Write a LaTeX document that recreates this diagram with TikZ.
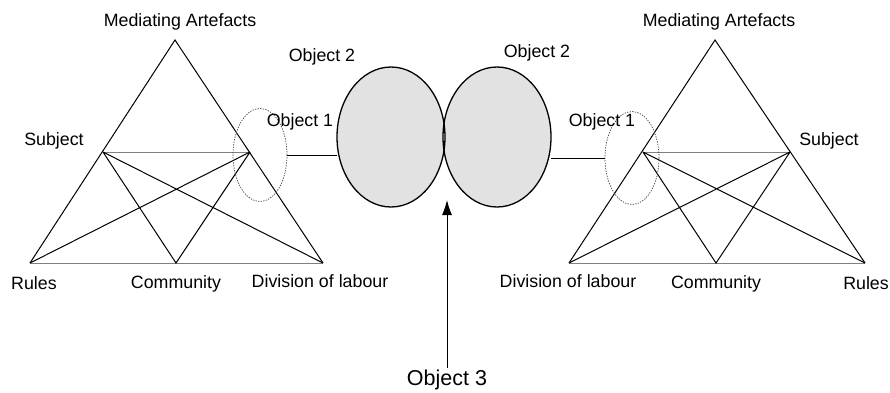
\documentclass[tikz,border=0pt]{standalone}
\usepackage{fontspec}
\setmainfont{Liberation Sans}
\usetikzlibrary{arrows.meta,shapes.geometric}
\definecolor{blobgrey}{RGB}{226,226,226}
\newcommand{\activitylines}[1]{%
  \draw[flatline] (#1rul) -- (#1div) (#1sub) -- (#1obj);
  \draw[triline] (#1rul) -- (#1apex) -- (#1div);
  \draw[triline] (#1sub) -- (#1com) -- (#1obj)
    (#1sub) -- (#1div) (#1obj) -- (#1rul);
}

\begin{document}
\begin{tikzpicture}[x=1pt,y=-1pt,font=\fontsize{17.8}{20}\selectfont,
    triline/.style={line width=1pt},
    flatline/.style={line width=1pt,draw=black!50},
    ring/.style={ellipse,draw=black!75,line width=.7pt,
      dash pattern=on 1.3pt off 1.3pt,minimum width=54pt,minimum height=93pt,inner sep=0pt},
    blob/.style={ellipse,fill=blobgrey,minimum width=108pt,minimum height=140pt,inner sep=0pt},
    rim/.style={line width=1.3pt},
    lbl/.style={inner sep=1pt}]
  \useasboundingbox (0,0) rectangle (890,392);

  % left activity system
  \coordinate (Lapex) at (175,40);
  \coordinate (Lsub) at (103,152);
  \coordinate (Lobj) at (250,152);
  \coordinate (Lrul) at (30,263);
  \coordinate (Lcom) at (176,263);
  \coordinate (Ldiv) at (323,263);
  \activitylines{L}
  \node[ring] (Lring) at (260,155) {};

  % right activity system
  \coordinate (Rapex) at (715,40);
  \coordinate (Robj) at (643,152);
  \coordinate (Rsub) at (790,152);
  \coordinate (Rdiv) at (569,263);
  \coordinate (Rcom) at (716,263);
  \coordinate (Rrul) at (865,263);
  \activitylines{R}
  \node[ring] (Rring) at (632,158) {};

  % shared objects
  \node[blob] (Lobj2) at (391,137) {};
  \node[blob] (Robj2) at (497,137) {};
  \foreach \b in {Lobj2,Robj2}
    \draw[rim] (\b.center) ellipse (54 and 70);
  \draw[triline] (Lring.east) -- (Lring.east -| Lobj2.west);
  \draw[triline] (Robj2.east |- Rring.west) -- (Rring.west);

  \coordinate (o3tip) at (447,200);
  \node[lbl,inner sep=2pt,font=\fontsize{21.5}{24}\selectfont] (o3) at (447,380) {Object 3};
  \draw[line width=1pt,-{Latex[length=15pt,width=10pt]}] (o3.north) -- (o3tip);

  % labels
  \node[lbl] (Lmedt) at (180,22) {Mediating Artefacts};
  \node[lbl] (Lsubt) at (54,141) {Subject};
  \node[lbl] (Lrult) at (34,283) {Rules};
  \node[lbl] (Lcomt) at (176,284) {Community};
  \node[lbl] (Ldivt) at (320,281) {Division of labour};
  \node[lbl] (Lo1t) at (300,122) {Object 1};
  \node[lbl] (Lo2t) at (322,57) {Object 2};
  \node[lbl] (Rmedt) at (719,22) {Mediating Artefacts};
  \node[lbl] (Rsubt) at (829,141) {Subject};
  \node[lbl] (Rrult) at (866,283) {Rules};
  \node[lbl] (Rcomt) at (716,284) {Community};
  \node[lbl] (Rdivt) at (568,281) {Division of labour};
  \node[lbl] (Ro1t) at (602,122) {Object 1};
  \node[lbl] (Ro2t) at (537,53) {Object 2};
\end{tikzpicture}
\end{document}
